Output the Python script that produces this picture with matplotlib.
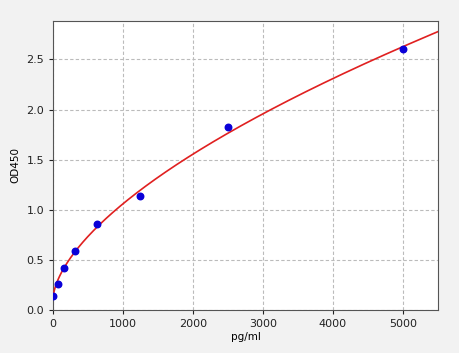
import numpy as np
import matplotlib
matplotlib.use("Agg")
import matplotlib.pyplot as plt

conc = [0, 78, 156, 312, 625, 1250, 2500, 5000]
od = [0.137, 0.263, 0.416, 0.592, 0.861, 1.137, 1.823, 2.608]
x_ticks = [0, 1000, 2000, 3000, 4000, 5000]
y_ticks = [0.0, 0.5, 1.0, 1.5, 2.0, 2.5]

# fit y = a + b*x^c (least squares over grid of c)
xa = np.array(conc, float)
ya = np.array(od, float)
best = None
for c in np.linspace(0.2, 1.2, 1001):
    A = np.vstack([np.ones_like(xa), xa ** c]).T
    coef, res, *_ = np.linalg.lstsq(A, ya, rcond=None)
    r = np.sum((A @ coef - ya) ** 2)
    if best is None or r < best[0]:
        best = (r, c, coef)
_, cbest, (a, b) = best
xs = np.linspace(0, 5500, 400)
ys = a + b * xs ** cbest

fig = plt.figure(figsize=(4.6, 3.53), dpi=100, facecolor="#f2f2f2")
ax = fig.add_axes([53/460, 1 - 310/353, (438-53)/460, (310-20.7)/353])
ax.set_facecolor("white")
ax.plot(xs, ys, color="#e02020", lw=1.2, zorder=3)
ax.scatter(conc, od, color="#0a00d8", s=22, zorder=4)
ax.set_xlim(0, 5500)
ax.set_ylim(0, 2.887)
ax.set_xticks(x_ticks)
ax.set_yticks(y_ticks)
ax.grid(True, ls=(0, (3, 2)), color="#bbbbbb", lw=0.8)
ax.tick_params(labelsize=8, colors="#222222", length=3)
for s in ax.spines.values():
    s.set_color("#555555")
ax.set_xlabel("pg/ml", fontsize=7.5, labelpad=2)
ax.set_ylabel("OD450", fontsize=7.5, labelpad=4)
fig.savefig("out.png", dpi=100, facecolor=fig.get_facecolor())
